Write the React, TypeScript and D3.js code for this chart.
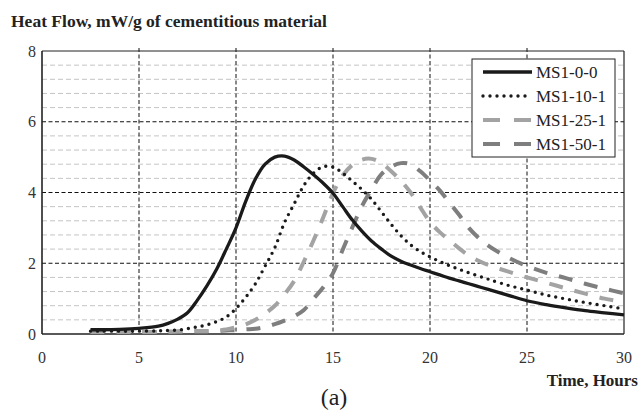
import React from 'react';
import * as d3 from 'd3';

// hours after mixing, shared by all four series
const hours = [2.5, 3, 4, 5, 6, 6.5, 7, 7.5, 8, 8.5, 9, 9.5, 10, 10.5, 11, 11.5, 12, 12.5, 13, 13.5, 14, 14.5, 15, 15.5, 16, 16.5, 17, 17.5, 18, 18.5, 19, 19.5, 20, 20.5, 21, 21.5, 22, 22.5, 23, 24, 25, 26, 27, 28, 29, 30];

const ms1_0_0 = [0.12, 0.12, 0.13, 0.16, 0.22, 0.3, 0.42, 0.6, 0.95, 1.36, 1.83, 2.4, 3.0, 3.75, 4.38, 4.8, 5.0, 5.03, 4.92, 4.72, 4.5, 4.26, 3.98, 3.6, 3.22, 2.9, 2.62, 2.4, 2.2, 2.06, 1.95, 1.85, 1.76, 1.67, 1.58, 1.5, 1.42, 1.34, 1.26, 1.1, 0.94, 0.83, 0.74, 0.66, 0.6, 0.54];
const ms1_10_1 = [0.08, 0.08, 0.08, 0.08, 0.09, 0.1, 0.11, 0.15, 0.2, 0.26, 0.35, 0.48, 0.72, 1.04, 1.42, 1.92, 2.44, 3.15, 3.68, 4.2, 4.55, 4.73, 4.72, 4.55, 4.32, 4.08, 3.8, 3.45, 3.1, 2.78, 2.52, 2.33, 2.18, 2.05, 1.93, 1.83, 1.73, 1.64, 1.55, 1.38, 1.24, 1.1, 0.99, 0.89, 0.8, 0.71];
const ms1_25_1 = [0.06, 0.06, 0.06, 0.06, 0.06, 0.06, 0.07, 0.07, 0.08, 0.08, 0.1, 0.13, 0.19, 0.27, 0.4, 0.58, 0.8, 1.12, 1.5, 2.05, 2.65, 3.3, 3.98, 4.48, 4.78, 4.93, 4.95, 4.83, 4.6, 4.33, 4.0, 3.58, 3.17, 2.88, 2.65, 2.42, 2.22, 2.07, 1.95, 1.77, 1.6, 1.45, 1.29, 1.14, 1.0, 0.9];
const ms1_50_1 = [0.06, 0.06, 0.06, 0.06, 0.06, 0.06, 0.07, 0.07, 0.08, 0.08, 0.09, 0.1, 0.11, 0.13, 0.15, 0.2, 0.28, 0.38, 0.5, 0.68, 1.0, 1.32, 1.72, 2.38, 3.02, 3.62, 4.1, 4.52, 4.73, 4.83, 4.8, 4.6, 4.34, 4.06, 3.72, 3.37, 3.0, 2.72, 2.5, 2.17, 1.92, 1.73, 1.58, 1.42, 1.28, 1.15];

const seriesNames = ['MS1-0-0', 'MS1-10-1', 'MS1-25-1', 'MS1-50-1'];
const xTicks = [0, 5, 10, 15, 20, 25, 30];
const yTicks = [0, 2, 4, 6, 8];

const styles = [
  { color: '#1a1a1a', width: 3.3, dash: undefined, cap: 'butt' },
  { color: '#1a1a1a', width: 3.4, dash: '0,7', cap: 'round' },
  { color: '#a3a3a3', width: 4, dash: '14,12', cap: 'butt' },
  { color: '#7e7e7e', width: 4, dash: '14,12', cap: 'butt' },
];

const serif = "'Liberation Serif', 'Times New Roman', Times, serif";

export default function App() {
  const W = 641, H = 416;
  const left = 42, right = 624, top = 51, bottom = 334;

  const x = d3.scaleLinear().domain([0, 30]).range([left, right]);
  const y = d3.scaleLinear().domain([0, 8]).range([bottom, top]);

  const line = d3.line<number>()
    .x((_, i) => x(hours[i]))
    .y((d) => y(d))
    .curve(d3.curveCatmullRom.alpha(0.5));

  const series = [ms1_0_0, ms1_10_1, ms1_25_1, ms1_50_1];
  const minor = d3.range(1, 20).filter((i) => i % 5 !== 0).map((i) => i * 0.4);

  const legendX = 472, legendY = 59, legendW = 143, legendH = 98;
  const txt = { fontFamily: serif };

  return (
    <svg width={W} height={H} style={{ position: 'absolute', left: 0, top: 0, background: '#fff', fontFamily: serif }}>
      <text x={11} y={27} fontSize={17.5} fontWeight="bold" fill="#222" style={txt}>Heat Flow, mW/g of cementitious material</text>

      {/* minor grid */}
      {minor.map((v) => (
        <line key={'m' + v} x1={left} x2={right} y1={y(v)} y2={y(v)} stroke="#c4c4c4" strokeWidth={1} strokeDasharray="5,3" />
      ))}
      {/* major grid */}
      {yTicks.filter((v) => v > 0 && v < 8).map((v) => (
        <line key={'hy' + v} x1={left} x2={right} y1={y(v)} y2={y(v)} stroke="#111" strokeWidth={1} strokeDasharray="4,2.5" />
      ))}
      {xTicks.filter((v) => v > 0 && v < 30).map((v) => (
        <line key={'vx' + v} x1={x(v)} x2={x(v)} y1={top - 3} y2={bottom} stroke="#111" strokeWidth={1} strokeDasharray="4,2.5" />
      ))}

      {/* frame */}
      <line x1={left} x2={right} y1={top} y2={top} stroke="#222" strokeWidth={1} />
      <line x1={right} x2={right} y1={top} y2={bottom} stroke="#222" strokeWidth={1.2} />
      <line x1={left} x2={left} y1={top} y2={bottom} stroke="#222" strokeWidth={1.6} />
      <line x1={left} x2={right} y1={bottom} y2={bottom} stroke="#222" strokeWidth={1.6} />

      {/* series, back to front */}
      {[3, 2, 1, 0].map((k) => (
        <path key={seriesNames[k]} d={line(series[k]) || ''} fill="none" stroke={styles[k].color}
          strokeWidth={styles[k].width} strokeDasharray={styles[k].dash} strokeLinecap={styles[k].cap as any} strokeLinejoin="round" />
      ))}

      {/* axis labels */}
      {yTicks.map((v) => (
        <text key={'yl' + v} x={36} y={y(v)} dy="0.35em" textAnchor="end" fontSize={16} fill="#333" style={txt}>{v}</text>
      ))}
      {xTicks.map((v) => (
        <text key={'xl' + v} x={x(v)} y={363} textAnchor="middle" fontSize={16} fill="#333" style={txt}>{v}</text>
      ))}
      <text x={638} y={386} textAnchor="end" fontSize={17} fontWeight="bold" fill="#222" style={txt}>Time, Hours</text>
      <text x={334} y={405} textAnchor="middle" fontSize={24} fill="#222" style={txt}>(a)</text>

      {/* legend */}
      <rect x={legendX} y={legendY} width={legendW} height={legendH} fill="#fff" stroke="#222" strokeWidth={1} />
      {seriesNames.map((name, k) => {
        const cy = legendY + 13 + k * 24;
        return (
          <g key={'lg' + name}>
            <line x1={483} x2={532} y1={cy} y2={cy} stroke={styles[k].color} strokeWidth={styles[k].width}
              strokeDasharray={k >= 2 ? '17,14' : styles[k].dash} strokeLinecap={styles[k].cap as any} />
            <text x={536} y={cy} dy="0.35em" fontSize={17} fill="#222" style={txt}>{name}</text>
          </g>
        );
      })}
    </svg>
  );
}
